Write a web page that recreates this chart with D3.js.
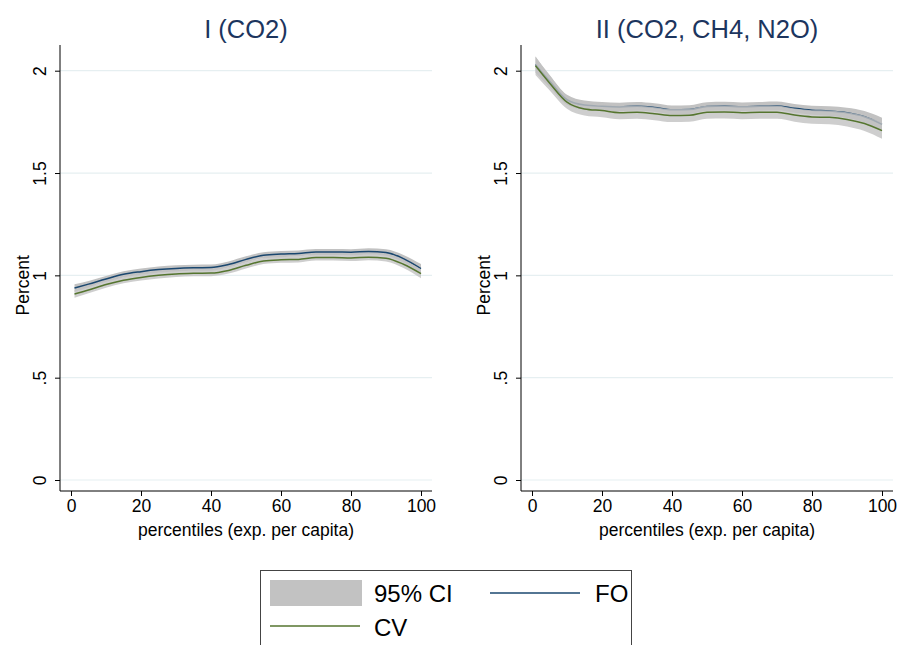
<!DOCTYPE html>
<html>
<head>
<meta charset="utf-8">
<script src="https://cdn.jsdelivr.net/npm/d3@7"></script>
<style>
  body { margin: 0; background: #fff; }
  svg { display: block; font-family: "Liberation Sans", Arial, sans-serif; }
</style>
</head>
<body>
<svg id="chart" width="897" height="645"></svg>
<script>
// ---------- data ----------
const percentiles = [1, 5, 10, 15, 20, 25, 30, 35, 40, 45, 50, 55, 60, 65, 70, 75, 80, 85, 90, 95, 100];

const panelTitles = ["I (CO2)", "II (CO2, CH4, N2O)"];

// Panel I (CO2)
const foI = [0.938, 0.957, 0.982, 1.005, 1.018, 1.028, 1.034, 1.037, 1.038, 1.053, 1.078, 1.098, 1.104, 1.107, 1.114, 1.114, 1.113, 1.117, 1.112, 1.082, 1.033];
const cvI = [0.909, 0.928, 0.955, 0.976, 0.990, 1.000, 1.007, 1.010, 1.011, 1.024, 1.049, 1.070, 1.076, 1.078, 1.087, 1.087, 1.085, 1.089, 1.084, 1.054, 1.008];
const foHalfI = [0.018, 0.016, 0.015, 0.015, 0.015, 0.015, 0.015, 0.015, 0.015, 0.015, 0.015, 0.015, 0.015, 0.015, 0.015, 0.015, 0.015, 0.015, 0.016, 0.018, 0.022];
const cvHalfI = [0.018, 0.016, 0.015, 0.015, 0.015, 0.015, 0.015, 0.015, 0.015, 0.015, 0.015, 0.015, 0.015, 0.015, 0.015, 0.015, 0.015, 0.015, 0.016, 0.018, 0.022];

// Panel II (CO2, CH4, N2O)
const foII = [2.030, 1.950, 1.858, 1.832, 1.826, 1.823, 1.826, 1.820, 1.809, 1.810, 1.825, 1.827, 1.824, 1.826, 1.828, 1.816, 1.807, 1.803, 1.794, 1.775, 1.738];
const cvII = [2.024, 1.940, 1.846, 1.813, 1.805, 1.795, 1.797, 1.790, 1.781, 1.782, 1.797, 1.798, 1.795, 1.797, 1.797, 1.783, 1.774, 1.772, 1.762, 1.742, 1.707];
const foHalfII = [0.040, 0.030, 0.024, 0.022, 0.021, 0.021, 0.021, 0.021, 0.021, 0.021, 0.021, 0.021, 0.021, 0.021, 0.021, 0.021, 0.022, 0.023, 0.025, 0.028, 0.032];
const cvHalfII = [0.045, 0.036, 0.032, 0.032, 0.032, 0.032, 0.032, 0.032, 0.032, 0.032, 0.032, 0.032, 0.032, 0.032, 0.032, 0.032, 0.033, 0.034, 0.035, 0.037, 0.040];

const yTicks = [0, 0.5, 1, 1.5, 2];
const yTickLabels = ["0", ".5", "1", "1.5", "2"];
const xTicks = [0, 20, 40, 60, 80, 100];

const xTitle = "percentiles (exp. per capita)";
const yTitle = "Percent";
const legendItems = ["95% CI", "FO", "CV"];

// ---------- styles ----------
const colFO = "#1a476f", colCV = "#55752f", colCI = "#c2c2c2";
const colGrid = "#e6eff1", colTitle = "#1c355e";

const svg = d3.select("#chart");

const panels = [
  { title: panelTitles[0], fo: foI, cv: cvI, foH: foHalfI, cvH: cvHalfI, left: 60 },
  { title: panelTitles[1], fo: foII, cv: cvII, foH: foHalfII, cvH: cvHalfII, left: 521 }
];

panels.forEach(p => {
  const plotL = p.left, plotR = p.left + 372, plotT = 45, plotB = 491;
  const x = d3.scaleLinear().domain([0, 100]).range([p.left + 11, p.left + 361]);
  const y = d3.scaleLinear().domain([0, 2]).range([480, 70.7]);
  const g = svg.append("g");

  // gridlines
  g.selectAll("line.grid").data(yTicks).join("line")
    .attr("x1", plotL).attr("x2", plotR)
    .attr("y1", d => y(d)).attr("y2", d => y(d))
    .attr("stroke", colGrid).attr("stroke-width", 1.2);

  const rows = percentiles.map((pc, i) => ({ pc, fo: p.fo[i], cv: p.cv[i], foH: p.foH[i], cvH: p.cvH[i] }));
  const curve = d3.curveMonotoneX;

  const area = (key, hk) => d3.area().curve(curve)
    .x(d => x(d.pc)).y0(d => y(d[key] - d[hk])).y1(d => y(d[key] + d[hk]));
  const line = (key) => d3.line().curve(curve).x(d => x(d.pc)).y(d => y(d[key]));

  g.append("path").datum(rows).attr("d", area("fo", "foH")).attr("fill", colCI);
  g.append("path").datum(rows).attr("d", line("fo")).attr("fill", "none")
    .attr("stroke", colFO).attr("stroke-width", 1.5);
  g.append("path").datum(rows).attr("d", area("cv", "cvH")).attr("fill", colCI).attr("fill-opacity", 0.8);
  g.append("path").datum(rows).attr("d", line("cv")).attr("fill", "none")
    .attr("stroke", colCV).attr("stroke-width", 1.5);

  // axes
  const yAxis = d3.axisLeft(y).tickValues(yTicks).tickFormat((d, i) => yTickLabels[i])
    .tickSize(5).tickSizeOuter(0);
  const ya = g.append("g").attr("transform", `translate(${plotL},0)`).call(yAxis);
  ya.select(".domain").attr("d", `M0,${plotT}V${plotB}`).attr("stroke", "#000");
  ya.selectAll(".tick line").attr("stroke", "#000");
  ya.selectAll(".tick text").attr("font-size", 17.5).attr("fill", "#000")
    .attr("text-anchor", "middle").attr("x", 0).attr("dy", 0)
    .attr("transform", "translate(-20,0) rotate(-90)").attr("dominant-baseline", "central");

  const xAxis = d3.axisBottom(x).tickValues(xTicks).tickSize(5).tickSizeOuter(0);
  const xa = g.append("g").attr("transform", `translate(0,${plotB})`).call(xAxis);
  xa.select(".domain").attr("d", `M${plotL},0H${plotR}`).attr("stroke", "#000");
  xa.selectAll(".tick line").attr("stroke", "#000");
  xa.selectAll(".tick text").attr("font-size", 17.5).attr("fill", "#000").attr("y", 7).attr("dy", "0.8em");

  // axis titles
  g.append("text").attr("x", x(50)).attr("y", 536).attr("text-anchor", "middle")
    .attr("font-size", 17.5).attr("fill", "#000").text(xTitle);
  g.append("text").attr("transform", `translate(${plotL - 37},${y(1) + 10}) rotate(-90)`)
    .attr("text-anchor", "middle").attr("dominant-baseline", "central")
    .attr("font-size", 17.5).attr("fill", "#000").text(yTitle);

  // panel title
  g.append("text").attr("x", (plotL + plotR) / 2).attr("y", 38).attr("text-anchor", "middle")
    .attr("font-size", 25.5).attr("fill", colTitle).text(p.title);
});

// ---------- legend ----------
const lg = svg.append("g");
lg.append("rect").attr("x", 260.5).attr("y", 570.5).attr("width", 371).attr("height", 90)
  .attr("fill", "#fff").attr("stroke", "#444").attr("stroke-width", 1);
lg.append("rect").attr("x", 270).attr("y", 580).attr("width", 92).attr("height", 26).attr("fill", colCI);
lg.append("text").attr("x", 374).attr("y", 602).attr("font-size", 24).text(legendItems[0]);
lg.append("line").attr("x1", 490).attr("x2", 580).attr("y1", 593).attr("y2", 593)
  .attr("stroke", colFO).attr("stroke-width", 1.5);
lg.append("text").attr("x", 595).attr("y", 602).attr("font-size", 24).text(legendItems[1]);
lg.append("line").attr("x1", 270).attr("x2", 360).attr("y1", 626).attr("y2", 626)
  .attr("stroke", colCV).attr("stroke-width", 1.5);
lg.append("text").attr("x", 374).attr("y", 636).attr("font-size", 24).text(legendItems[2]);
</script>
</body>
</html>
